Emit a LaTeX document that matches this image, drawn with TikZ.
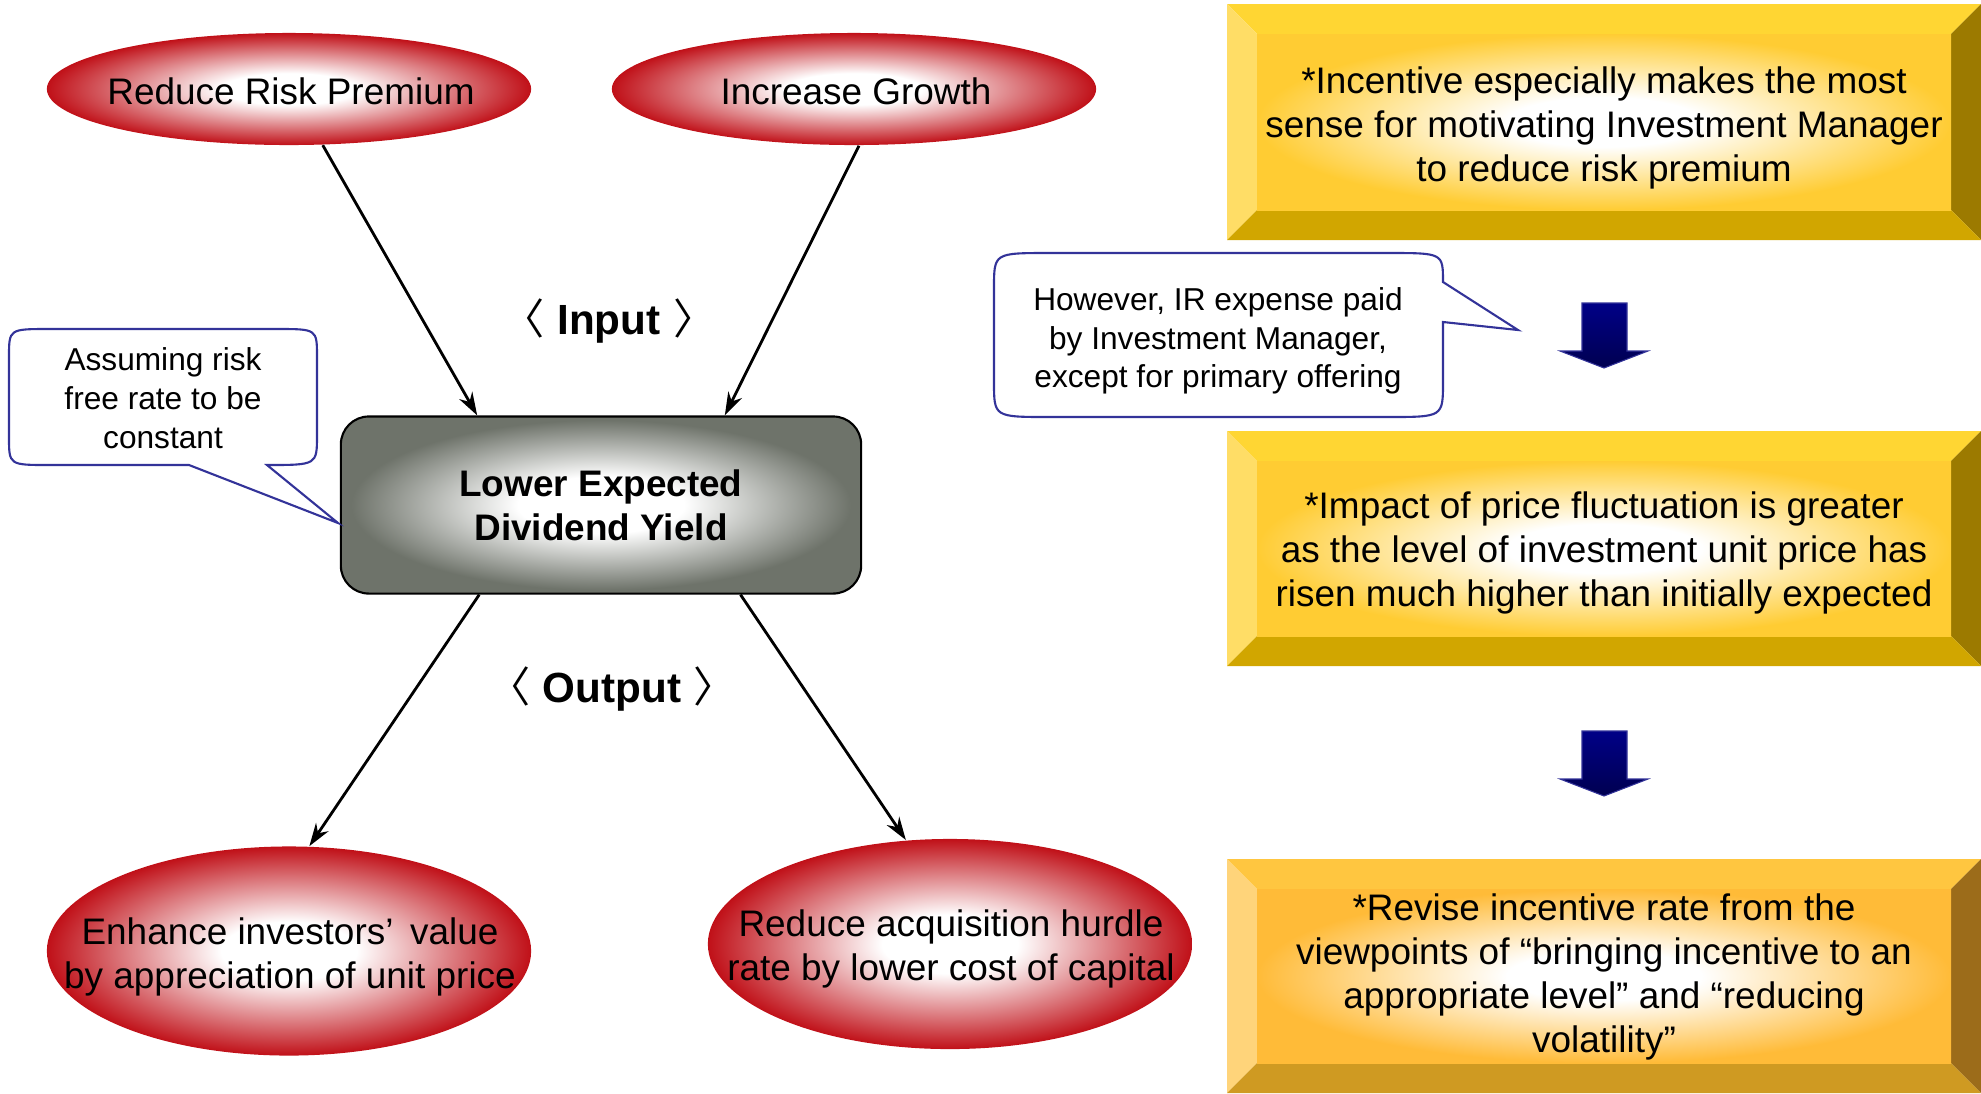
\documentclass[tikz,border=0pt]{standalone}
\usepackage{fontspec}
\setmainfont{Liberation Sans}
\newfontfamily\cjk{Noto Sans CJK JP}
\usetikzlibrary{shapes.geometric,arrows.meta,calc}

\definecolor{redE}{RGB}{192,16,24}
\definecolor{grayE}{RGB}{110,115,106}
\definecolor{calloutline}{RGB}{51,51,153}
\definecolor{navyA}{RGB}{0,0,135}
\definecolor{navyB}{RGB}{0,0,80}
\definecolor{goldtop}{RGB}{255,214,51}
\definecolor{goldleft}{RGB}{255,221,102}
\definecolor{goldright}{RGB}{156,122,0}
\definecolor{goldbot}{RGB}{209,166,0}
\definecolor{goldface}{RGB}{255,204,51}
\definecolor{ambertop}{RGB}{255,198,64}
\definecolor{amberleft}{RGB}{255,212,122}
\definecolor{amberright}{RGB}{156,108,26}
\definecolor{amberbot}{RGB}{207,154,34}
\definecolor{amberface}{RGB}{255,187,56}

\pgfdeclareradialshading{redglow}{\pgfpoint{0bp}{0bp}}{color(0bp)=(white); color(7bp)=(white); color(25bp)=(redE); color(50bp)=(redE)}
\pgfdeclareradialshading{grayglow}{\pgfpoint{0bp}{0bp}}{color(0bp)=(white); color(8bp)=(white); color(24bp)=(grayE); color(50bp)=(grayE)}
\pgfdeclareradialshading{goldglow}{\pgfpoint{0bp}{0bp}}{color(0bp)=(white); color(7bp)=(white); color(25bp)=(goldface); color(50bp)=(goldface)}
\pgfdeclareradialshading{amberglow}{\pgfpoint{0bp}{0bp}}{color(0bp)=(white); color(7bp)=(white); color(25bp)=(amberface); color(50bp)=(amberface)}

\newcommand{\bevel}[3]{%
  \fill[#3top] (1227,#1) -- (1981,#1) -- (1951,#1+30) -- (1257,#1+30) -- cycle;
  \fill[#3left] (1227,#1) -- (1257,#1+30) -- (1257,#2-30) -- (1227,#2) -- cycle;
  \fill[#3right] (1981,#1) -- (1951,#1+30) -- (1951,#2-30) -- (1981,#2) -- cycle;
  \fill[#3bot] (1227,#2) -- (1257,#2-30) -- (1951,#2-30) -- (1981,#2) -- cycle;
  \shade[shading=#3glow] (1257,#1+30) rectangle (1951,#2-30);
}

\tikzset{
  redball/.style={ellipse, shading=redglow, shade, inner sep=0pt, minimum width=4.84cm},
  balltext/.style={align=center, font=\fontsize{10.5}{12.5}\selectfont},
  yieldbox/.style={rectangle, rounded corners=0.28cm, draw=black, line width=0.6pt,
    shading=grayglow, shade, minimum width=5.2cm, minimum height=1.77cm,
    align=center, font=\fontsize{10.5}{12.5}\selectfont\bfseries},
  flow/.style={-{Stealth[length=0.23cm,width=0.15cm]}, line width=0.8pt},
  tag/.style={font=\fontsize{12}{14}\selectfont\bfseries},
  callout/.style={draw=calloutline, fill=white, line width=0.6pt},
  callouttext/.style={align=center, font=\fontsize{9}{11}\selectfont},
  boxtext/.style={align=center, font=\fontsize{10.5}{12.5}\selectfont},
  navyarrow/.style={top color=navyA, bottom color=navyB, draw=calloutline, line width=0.3pt}
}

\begin{document}
\begin{tikzpicture}[x=0.01cm, y=-0.01cm]

  \useasboundingbox (0,0) rectangle (1981,1093);

  \node[redball, minimum height=1.12cm] (risk) at (289,89) {};
  \node[balltext] at (291,91) {Reduce Risk Premium};

  \node[redball, minimum height=1.12cm] (growth) at (854,89) {};
  \node[balltext] at (856,91) {Increase Growth};

  \node[yieldbox] (yield) at (601,505) {Lower Expected\\Dividend Yield};

  \draw[flow] (risk.-59) -- ($(yield.north west)!0.263!(yield.north east)$);
  \draw[flow] (growth.-85) -- ($(yield.north west)!0.737!(yield.north east)$);

  \node[tag] (input) at (609,321) {{\mdseries\cjk 〈}\hspace{0.3em}Input\hspace{0.3em}{\mdseries\cjk 〉}};

  \node[redball, minimum height=2.09cm] (enhance) at (289,951) {};
  \node[balltext] at (290,957) {Enhance investors’\hspace{0.45em}value\\by appreciation of unit price};

  \node[redball, minimum height=2.1cm] (hurdle) at (950,944) {};
  \node[balltext] at (951,949) {Reduce acquisition hurdle\\rate by lower cost of capital};

  \draw[flow] ($(yield.south west)!0.267!(yield.south east)$) -- (enhance.79);
  \draw[flow] ($(yield.south west)!0.767!(yield.south east)$) -- (hurdle.113);

  \node[tag] (output) at (612,689) {{\mdseries\cjk 〈}\hspace{0.3em}Output\hspace{0.3em}{\mdseries\cjk 〉}};

  \draw[callout] (189,465) -- (338,523) -- (267,465) .. controls (317,465) .. (317,435)
    -- (317,357) .. controls (317,329) .. (277,329) -- (49,329) .. controls (9,329) .. (9,357)
    -- (9,437) .. controls (9,465) .. (49,465) -- cycle;
  \node[callouttext] (assume) at (163,398) {Assuming risk\\free rate to be\\constant};

  \draw[callout] (1443,282) -- (1518,330) -- (1443,322) -- (1443,382) .. controls (1443,417) .. (1388,417)
    -- (1049,417) .. controls (994,417) .. (994,382) -- (994,288) .. controls (994,253) .. (1049,253)
    -- (1388,253) .. controls (1443,253) .. (1443,282) -- cycle;
  \node[callouttext] (expense) at (1218,341) {However, IR expense paid\\by Investment Manager,\\except for primary offering};

  \bevel{4}{240}{gold}
  \node[boxtext] (incentive) at (1604,128) {*Incentive especially makes the most\\sense for motivating Investment Manager\\to reduce risk premium};

  \bevel{431}{666}{gold}
  \node[boxtext] (impact) at (1604,553) {*Impact of price fluctuation is greater\\as the level of investment unit price has\\risen much higher than initially expected};

  \bevel{859}{1093}{amber}
  \node[boxtext] (revise) at (1604,977) {*Revise incentive rate from the\\viewpoints of “bringing incentive to an\\appropriate level” and “reducing\\volatility”};

  \foreach \dy in {0,428}
    \shade[navyarrow] (1582,303+\dy) -- (1627,303+\dy) -- (1627,351+\dy) -- (1648,351+\dy)
      -- (1604,368+\dy) -- (1560,351+\dy) -- (1582,351+\dy) -- cycle;

\end{tikzpicture}
\end{document}
